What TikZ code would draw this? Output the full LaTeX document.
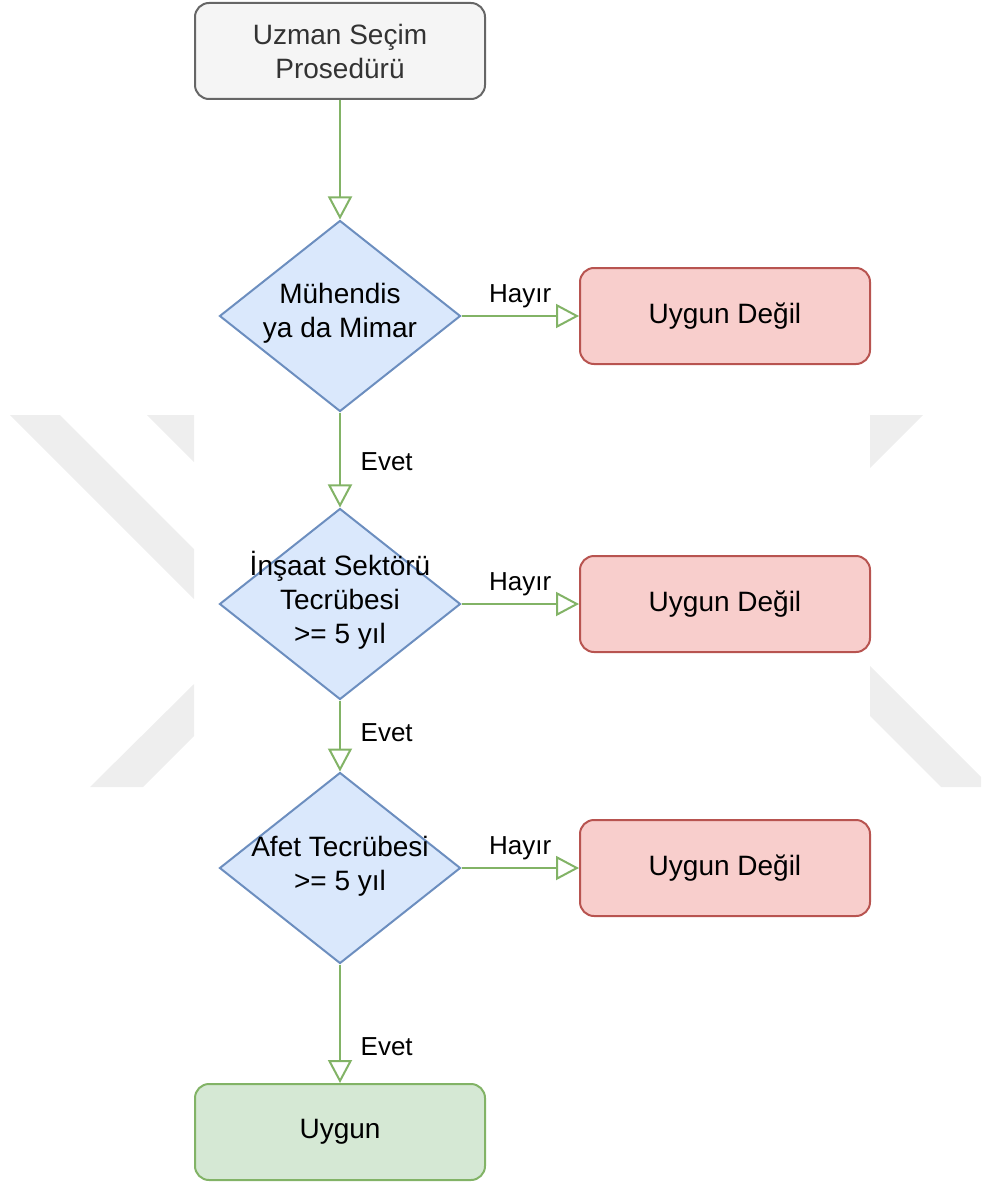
\documentclass[tikz,border=0pt]{standalone}
\usepackage{fontspec}
\setmainfont{Liberation Sans}
\usetikzlibrary{arrows.meta, shapes.geometric}

\definecolor{wmgray}{HTML}{EEEEEE}
\definecolor{startfill}{HTML}{F5F5F5}
\definecolor{startline}{HTML}{666666}
\definecolor{starttext}{HTML}{333333}
\definecolor{qfill}{HTML}{DAE8FC}
\definecolor{qline}{HTML}{6C8EBF}
\definecolor{nofill}{HTML}{F8CECC}
\definecolor{noline}{HTML}{B85450}
\definecolor{yesfill}{HTML}{D5E8D4}
\definecolor{yesline}{HTML}{82B366}

\begin{document}
\begin{tikzpicture}[x=0.5pt, y=-0.5pt, line width=1pt,
  mainfont/.style={font=\fontsize{14}{17}\selectfont, align=center},
  roundbox/.style={rectangle, rounded corners=7pt, minimum width=145pt,
    minimum height=48pt, mainfont},
  startbox/.style={roundbox, draw=startline, fill=startfill, text=starttext},
  rejectbox/.style={roundbox, draw=noline, fill=nofill},
  acceptbox/.style={roundbox, draw=yesline, fill=yesfill},
  decision/.style={diamond, draw=qline, fill=qfill, inner sep=0pt,
    minimum width=120.5pt, minimum height=95.5pt},
  qtext/.style={mainfont, inner sep=0pt},
  flow/.style={draw=yesline, -{Triangle[open, length=11.5pt, width=12pt]}},
  lbl/.style={font=\fontsize{13}{15}\selectfont}]
  \useasboundingbox (0,0) rectangle (981,1182);
  \fill[wmgray] (10,415) -- (60,415) -- (194,549) -- (194,599) -- cycle;
  \fill[wmgray] (147,415) -- (194,415) -- (194,462) -- cycle;
  \fill[wmgray] (90,787) -- (143,787) -- (194,736) -- (194,684) -- cycle;
  \fill[wmgray] (870,415) -- (923,415) -- (870,468) -- cycle;
  \fill[wmgray] (870,666) -- (981,777) -- (981,787) -- (941,787) -- (870,716) -- cycle;

  \node[startbox] (start) at (340,51) {Uzman Seçim\\Prosedürü};
  \node[decision] (q1) at (340,316) {};
  \node[qtext] (q1txt) at (340,313) {Mühendis\\ya da Mimar};
  \node[decision] (q2) at (340,604) {};
  \node[qtext] (q2txt) at (340,600) {İnşaat Sektörü\\Tecrübesi\\>= 5 yıl};
  \node[decision] (q3) at (340,868) {};
  \node[qtext] (q3txt) at (340,866) {Afet Tecrübesi\\>= 5 yıl};
  \node[rejectbox] (no1) at (725,316) {Uygun Değil};
  \node[rejectbox] (no2) at (725,604) {Uygun Değil};
  \node[rejectbox] (no3) at (725,868) {Uygun Değil};
  \node[acceptbox] (yes) at (340,1132) {Uygun};

  \draw[flow] (start) -- (q1);
  \draw[flow] (q1) -- node[lbl, pos=0.52, right=6.5pt] {Evet} (q2);
  \draw[flow] (q2) -- node[lbl, pos=0.46, right=6.5pt] {Evet} (q3);
  \draw[flow] (q3) -- node[lbl, pos=0.69, right=6.5pt] {Evet} (yes);
  \draw[flow] (q1) -- node[lbl, above] {Hayır} (no1);
  \draw[flow] (q2) -- node[lbl, above] {Hayır} (no2);
  \draw[flow] (q3) -- node[lbl, above] {Hayır} (no3);
\end{tikzpicture}
\end{document}
